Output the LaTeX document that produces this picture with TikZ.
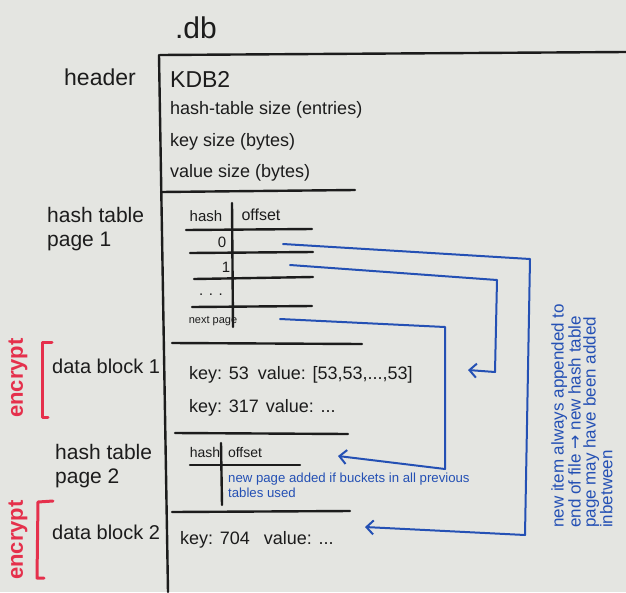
\documentclass[tikz,border=0pt]{standalone}
\usepackage{fontspec}
\setmainfont{Liberation Sans}
\newfontfamily\symfnt{DejaVu Sans}
\usetikzlibrary{arrows.meta}
\definecolor{board}{HTML}{E4E5E1}
\definecolor{ink}{HTML}{1C1C1C}
\definecolor{bluemk}{HTML}{2450B4}
\definecolor{redmk}{HTML}{E5304C}
\begin{document}
\begin{tikzpicture}[x=1pt,y=-1pt,
 inkline/.style={draw=ink,line width=2.4pt,line cap=round},
 blueline/.style={draw=bluemk,line width=2pt,line cap=round,line join=round,-{Straight Barb[length=7pt,width=14pt,line width=2pt]}},
 redline/.style={draw=redmk,line width=3pt,line cap=round,line join=round},
 txt/.style={text=ink,inner sep=0pt,anchor=west,font=\fontsize{18}{20}\selectfont},
 lbl/.style={text=ink,inner sep=0pt,font=\fontsize{21}{24}\selectfont,align=left},
 tbl/.style={text=ink,inner sep=0pt,font=\fontsize{15}{17}\selectfont},
 note/.style={text=bluemk,inner sep=0pt,align=left},
 enc/.style={text=redmk,inner sep=0pt,rotate=90,font=\fontsize{22}{24}\selectfont\bfseries},
]
\useasboundingbox[fill=board] (0,0) rectangle (626,592);

% title
\node[lbl,font=\fontsize{30}{32}\selectfont] (dbtitle) at (196,28) {.db};

% main frame
\draw[inkline] (159,55) -- (168,592);
\draw[inkline] (160,55) -- (626,52);

% left labels
\node[lbl,font=\fontsize{23}{24}\selectfont] (lheader) at (100,77) {header};
\node[lbl,anchor=west] (lhash1) at (47,229) {hash table\\page 1};
\node[lbl,anchor=west,font=\fontsize{20}{24}\selectfont] (ldata1) at (52,366) {data block 1};
\node[lbl,anchor=west] (lhash2) at (55,466) {hash table\\page 2};
\node[lbl,anchor=west,font=\fontsize{20}{24}\selectfont] (ldata2) at (52,532) {data block 2};

% encrypt marks
\node[enc] (enc1) at (18,378) {encrypt};
\draw[redline] (52,342) -- (42,342) -- (42,417) -- (48,417);
\node[enc] (enc2) at (18,540) {encrypt};
\draw[redline] (53,501) -- (38,502) -- (37,578) -- (44,578);

% header contents
\node[txt,font=\fontsize{23}{25}\selectfont] (kdb) at (170,79) {KDB2};
\node[txt] (hsize) at (170,110) {hash-table size (entries)};
\node[txt] (ksize) at (170,142) {key size (bytes)};
\node[txt] (vsize) at (170,173) {value size (bytes)};
\draw[inkline] (161,192) -- (355,190);

% hash table page 1
\node[tbl] (h1hash) at (206,216) {hash};
\node[tbl,font=\fontsize{16}{18}\selectfont] (h1off) at (261,215) {offset};
\draw[inkline] (232,203) -- (233,327);
\draw[inkline] (186,230) -- (312,229);
\draw[inkline] (190,253) -- (313,252);
\draw[inkline] (194,279) -- (313,277);
\draw[inkline] (192,307) -- (312,306);
\node[tbl] (h1r0) at (222,242) {0};
\node[tbl] (h1r1) at (226,267) {1};
\node[tbl] (h1rd) at (211,295) {. . .};
\node[tbl,font=\fontsize{11}{12}\selectfont] (h1next) at (213,321) {next page};

% data block 1
\draw[inkline] (172,343) -- (362,344);
\node[txt] (d1k1) at (189,375) {key: 53\hspace{9pt}value: [53,53,...,53]};
\node[txt] (d1k2) at (189,408) {key: 317\hspace{7pt}value: ...};
\draw[inkline] (175,433) -- (348,434);

% hash table page 2
\node[tbl,font=\fontsize{14}{16}\selectfont] (h2hash) at (205,452) {hash};
\node[tbl,font=\fontsize{14}{16}\selectfont] (h2off) at (245,452) {offset};
\draw[inkline] (190,465) -- (300,465);
\draw[inkline] (221,443) -- (222,505);
\node[note,anchor=north west,font=\fontsize{13.2}{15}\selectfont] (h2note) at (228,473) {new page added if buckets in all previous\\tables used};

% data block 2
\draw[inkline] (172,512) -- (350,511);
\node[txt] (d2k1) at (180,540) {key: 704\hspace{14pt}value: ...};

% right note
\node[note,rotate=90,anchor=west,font=\fontsize{17}{15}\selectfont] (appendnote) at (582,528)
  {new item always appended to\\end of file {\symfnt →} new hash table\\page may have been added\\inbetween};

% blue pointers
\coordinate (o0) at (283,244);
\coordinate (o1) at (290,265);
\coordinate (onext) at (280,319);
\coordinate (t2) at (365,527);
\coordinate (t1) at (468,370);
\coordinate (th2) at (338,456);
\draw[blueline] (o0) -- (530,259) -- (525,535) -- (t2);
\draw[blueline] (o1) -- (497,280) -- (495,372) -- (t1);
\draw[blueline] (onext) -- (445,327) -- (445,469) -- (th2);
\end{tikzpicture}
\end{document}
